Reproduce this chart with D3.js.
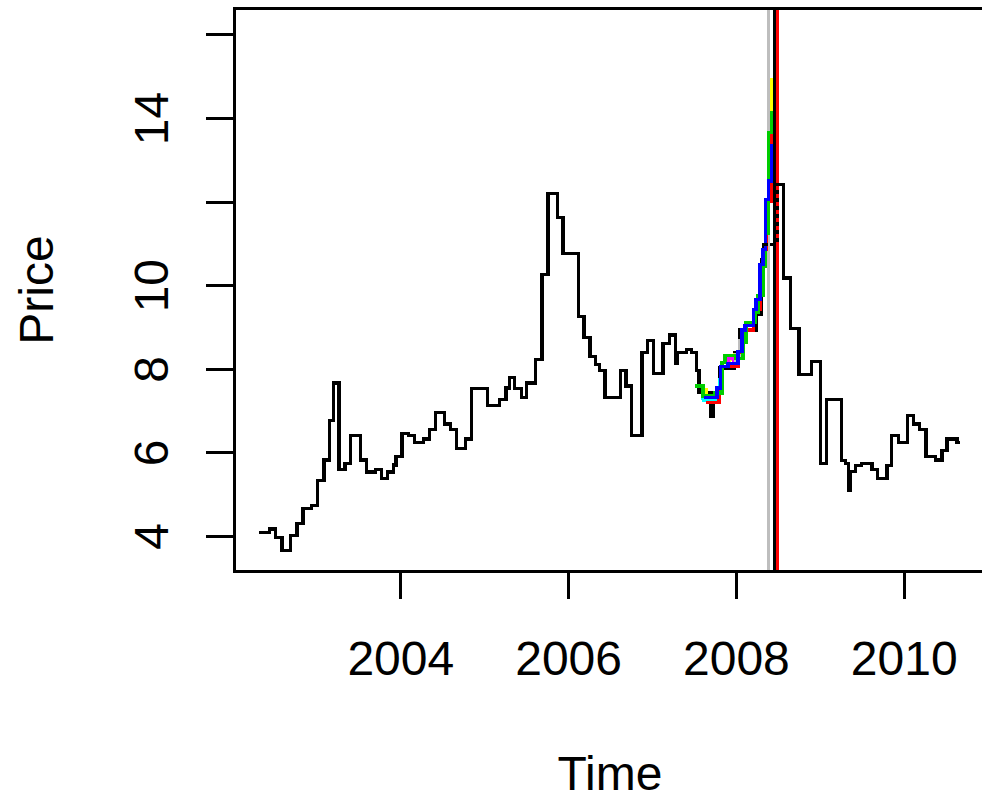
<!DOCTYPE html>
<html>
<head>
<meta charset="utf-8">
<title>Price</title>
<script src="https://cdn.jsdelivr.net/npm/d3@7"></script>
<style>
  html, body { margin: 0; padding: 0; background: #fff; }
  svg { display: block; font-family: "Liberation Sans", Arial, Helvetica, sans-serif; }
</style>
</head>
<body>
<svg id="chart" width="982" height="800"></svg>
<script>
// ======================================================
//   Monthly price series with forecast paths (R base plot look)
// ======================================================

// =============================
// 1. DATA
// =============================
const priceTimes = [
  2002.32, 2002.44, 2002.51, 2002.59, 2002.69, 2002.77, 2002.84, 2002.94,
  2003.01, 2003.09, 2003.16, 2003.20, 2003.27, 2003.34, 2003.41, 2003.53,
  2003.60, 2003.70, 2003.78, 2003.85, 2003.92, 2003.95, 2004.02, 2004.10,
  2004.17, 2004.28, 2004.35, 2004.42, 2004.53, 2004.60, 2004.67, 2004.78,
  2004.85, 2005.04, 2005.18, 2005.26, 2005.30, 2005.36, 2005.44, 2005.50,
  2005.61, 2005.69, 2005.76, 2005.87, 2005.94, 2006.12, 2006.19, 2006.26,
  2006.33, 2006.37, 2006.44, 2006.62, 2006.69, 2006.76, 2006.88, 2006.95,
  2007.02, 2007.13, 2007.21, 2007.283, 2007.303, 2007.41, 2007.47, 2007.53,
  2007.56, 2007.70, 2007.735, 2007.809, 2007.988, 2008.047, 2008.246, 2008.305,
  2008.329, 2008.49, 2008.566, 2008.654, 2008.753, 2008.905, 2009.004, 2009.084,
  2009.254, 2009.302, 2009.345, 2009.365, 2009.421, 2009.501, 2009.621, 2009.692,
  2009.800, 2009.859, 2009.938, 2010.045, 2010.117, 2010.189, 2010.265, 2010.376,
  2010.456, 2010.516, 2010.635, 2010.675
];
const priceValues = [
  4.09, 4.17, 3.96, 3.66, 4.01, 4.30, 4.65, 4.73,
  5.32, 5.82, 6.76, 7.66, 5.60, 5.74, 6.40, 5.82,
  5.53, 5.60, 5.38, 5.53, 5.70, 5.90, 6.46, 6.40,
  6.24, 6.32, 6.54, 6.96, 6.68, 6.54, 6.10, 6.32,
  7.52, 7.12, 7.26, 7.54, 7.80, 7.52, 7.32, 7.66,
  8.23, 10.25, 12.19, 11.61, 10.75, 9.25, 8.74, 8.29,
  8.10, 7.95, 7.32, 7.95, 7.59, 6.40, 8.39, 8.67,
  7.88, 8.60, 8.81, 8.14, 8.39, 8.46, 8.39, 7.96,
  7.44, 6.86, 7.42, 8.02, 8.38, 8.93, 9.30, 10.62,
  10.97, 12.41, 10.17, 8.96, 7.87, 8.18, 5.74, 7.26,
  5.80, 5.74, 5.10, 5.54, 5.68, 5.74, 5.60, 5.38,
  5.68, 6.40, 6.24, 6.88, 6.68, 6.54, 5.90, 5.82,
  6.04, 6.32, 6.24, 6.24
];

// actual values over the hold-out step (drawn dashed)
const testTimes = [2008.329, 2008.49, 2008.566];
const testValues = [10.97, 12.41, 10.17];

// forecast paths (R palette colours)
const yellowTimes = [2007.619, 2007.645, 2007.775, 2007.816, 2007.92, 2007.99, 2008.073, 2008.109, 2008.21, 2008.24, 2008.288, 2008.323, 2008.353, 2008.389, 2008.423];
const yellowValues = [7.50, 7.28, 7.54, 8.05, 8.22, 8.33, 8.93, 9.03, 9.41, 9.65, 10.49, 10.85, 12.05, 12.49, 14.95];

const magentaTimes = [2007.583, 2007.64, 2007.79, 2007.82, 2007.905, 2007.97];
const magentaValues = [7.33, 7.28, 7.55, 8.05, 8.25, 8.12];

const cyanTimes = [2007.583, 2007.62, 2007.80, 2007.845];
const cyanValues = [7.30, 7.25, 7.74, 8.05];

const grayTimes = [2007.80, 2007.83, 2008.00, 2008.045, 2008.08];
const grayValues = [7.90, 8.05, 8.33, 8.67, 8.93];

const redTimes = [2007.643, 2007.799, 2007.830, 2008.025, 2008.073, 2008.210, 2008.288, 2008.323, 2008.359, 2008.423];
const redValues = [7.20, 7.50, 8.05, 8.40, 8.93, 9.41, 10.49, 10.85, 12.01, 13.66];

const greenTimes = [2007.512, 2007.607, 2007.751, 2007.834, 2007.870, 2008.001, 2008.085, 2008.120, 2008.228, 2008.264, 2008.329, 2008.353, 2008.389, 2008.423];
const greenValues = [7.59, 7.35, 7.42, 8.15, 8.32, 8.25, 8.62, 9.10, 9.35, 9.75, 10.45, 11.25, 13.66, 14.16];

const blueTimes = [2007.62, 2007.775, 2007.816, 2007.906, 2008.025, 2008.073, 2008.109, 2008.210, 2008.240, 2008.288, 2008.323, 2008.353, 2008.389, 2008.423];
const blueValues = [7.31, 7.54, 8.05, 8.12, 8.41, 8.93, 9.03, 9.41, 9.65, 10.49, 10.85, 12.05, 12.49, 13.37];

// vertical markers (abline v=...)
const markerTimes = [2008.387, 2008.455, 2008.490];
const markerColors = ["#BEBEBE", "#000000", "#FF0000"];

// axis ticks
const xTicks = [2004, 2006, 2008, 2010];
const yTicks = [4, 6, 8, 10, 12, 14, 16];
const yTickLabels = ["4", "6", "8", "10", "", "14", ""];

// =============================
// 2. SCALES
// =============================
const svg = d3.select("#chart");

const x = d3.scaleLinear().domain([2002.018, 2011.0]).range([234, 987.6]);
const y = d3.scaleLinear().domain([3.163, 16.63]).range([571, 8]);

const stepLine = d3.line()
  .x((d) => x(d[0]))
  .y((d) => y(d[1]))
  .curve(d3.curveStepAfter);

const zip = (ts, vs) => ts.map((t, i) => [t, vs[i]]);

svg.append("rect")
  .attr("width", 982).attr("height", 800).attr("fill", "#fff");

// =============================
// 3. SERIES
// =============================
const plot = svg.append("g").attr("shape-rendering", "crispEdges");

plot.append("path")
  .datum(zip(priceTimes, priceValues))
  .attr("d", stepLine)
  .attr("fill", "none")
  .attr("stroke", "#000")
  .attr("stroke-width", 3.2);

// gray marker sits under the forecasts
plot.append("line")
  .attr("x1", x(markerTimes[0])).attr("x2", x(markerTimes[0]))
  .attr("y1", y.range()[0]).attr("y2", y.range()[1])
  .attr("stroke", markerColors[0])
  .attr("stroke-width", 3);

const forecasts = [
  { t: yellowTimes, v: yellowValues, col: "#FFFF00" },
  { t: magentaTimes, v: magentaValues, col: "#FF00FF" },
  { t: cyanTimes, v: cyanValues, col: "#00FFFF" },
  { t: grayTimes, v: grayValues, col: "#BEBEBE" },
  { t: redTimes, v: redValues, col: "#FF0000" },
  { t: greenTimes, v: greenValues, col: "#00CD00" },
  { t: blueTimes, v: blueValues, col: "#0000FF" },
];

plot.selectAll("path.fc")
  .data(forecasts)
  .enter()
  .append("path")
  .attr("class", "fc")
  .attr("d", (d) => stepLine(zip(d.t, d.v)))
  .attr("fill", "none")
  .attr("stroke", (d) => d.col)
  .attr("stroke-width", 3.2);

plot.selectAll("line.marker")
  .data(markerTimes.slice(1))
  .enter()
  .append("line")
  .attr("class", "marker")
  .attr("x1", (d) => x(d)).attr("x2", (d) => x(d))
  .attr("y1", y.range()[0]).attr("y2", y.range()[1])
  .attr("stroke", (_, i) => markerColors[i + 1])
  .attr("stroke-width", 3);

plot.append("path")
  .datum(zip(testTimes, testValues))
  .attr("d", stepLine)
  .attr("fill", "none")
  .attr("stroke", "#000")
  .attr("stroke-width", 3.2)
  .attr("stroke-dasharray", "4,4");

// =============================
// 4. AXES + BOX
// =============================
const xAxis = svg.append("g")
  .attr("transform", `translate(0,${y.range()[0]})`)
  .call(d3.axisBottom(x).tickValues(xTicks).tickFormat(d3.format("d")).tickSize(28).tickSizeOuter(0));

const yAxis = svg.append("g")
  .attr("transform", `translate(${x.range()[0]},0)`)
  .call(d3.axisLeft(y).tickValues(yTicks).tickFormat((d, i) => yTickLabels[i]).tickSize(28).tickSizeOuter(0));

[xAxis, yAxis].forEach((g) => {
  g.select(".domain").remove();
  g.selectAll(".tick line")
    .attr("stroke", "#000")
    .attr("stroke-width", 3)
    .attr("shape-rendering", "crispEdges");
  g.selectAll(".tick text")
    .attr("fill", "#000")
    .style("font-size", "48px")
    .style("font-family", "\"Liberation Sans\", Arial, sans-serif");
});

xAxis.selectAll(".tick text").attr("y", 104).attr("dy", 0);

yAxis.selectAll(".tick text")
  .attr("transform", "rotate(-90)")
  .attr("x", 0)
  .attr("y", -66)
  .attr("dy", 0)
  .attr("text-anchor", "middle");

svg.append("rect")
  .attr("x", x.range()[0])
  .attr("y", y.range()[1])
  .attr("width", x.range()[1] - x.range()[0])
  .attr("height", y.range()[0] - y.range()[1])
  .attr("fill", "none")
  .attr("stroke", "#000")
  .attr("stroke-width", 3)
  .attr("shape-rendering", "crispEdges");

// =============================
// 5. TITLES
// =============================
svg.append("text")
  .attr("x", 610)
  .attr("y", 790)
  .attr("text-anchor", "middle")
  .style("font-size", "48px")
  .text("Time");

svg.append("text")
  .attr("transform", "translate(53,290) rotate(-90)")
  .attr("text-anchor", "middle")
  .style("font-size", "48px")
  .text("Price");
</script>
</body>
</html>
